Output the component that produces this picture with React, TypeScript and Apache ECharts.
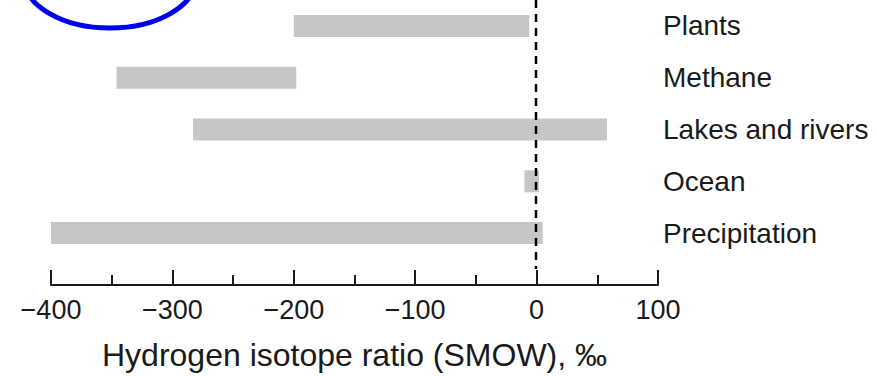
import React, { useEffect, useRef } from "react";
import * as echarts from "echarts";

// Hydrogen isotope ranges (δD vs SMOW, ‰) for each reservoir
const categories = ["Plants", "Methane", "Lakes and rivers", "Ocean", "Precipitation"];
const rangeStart = [-200, -346, -283, -10, -400];
const rangeEnd = [-6, -198, 58, 2, 5];

// SMOW reference value, drawn as a dashed vertical line
const referenceValue = [0];

const axisMin = -400;
const axisMax = 100;
const axisStep = 100;

const FONT = "'Liberation Sans', Arial, Helvetica, sans-serif";
const INK = "#1a1a1a";

export default function App() {
  const ref = useRef<HTMLDivElement>(null);

  useEffect(() => {
    if (!ref.current) return;
    const chart = echarts.init(ref.current, undefined, { renderer: "svg" });

    const rangeData = categories.map((_, i) => [rangeStart[i], rangeEnd[i], i]);

    const renderRange = (params: any, api: any) => {
      const y = api.value(2);
      const p0 = api.coord([api.value(0), y]);
      const p1 = api.coord([api.value(1), y]);
      const h = 22;
      return {
        type: "rect",
        shape: { x: p0[0], y: p0[1] - h / 2, width: p1[0] - p0[0], height: h },
        style: { fill: "#c6c6c6" },
      };
    };

    const renderReference = (params: any, api: any) => {
      const x = Math.round(api.coord([api.value(0), 0])[0]) - 1;
      const cs = params.coordSys;
      return {
        type: "line",
        shape: { x1: x, y1: 0, x2: x, y2: cs.y + cs.height + 10 },
        style: { stroke: "#000", lineWidth: 2.5, lineDash: [8, 6] },
        z2: 5,
      };
    };

    chart.setOption({
      animation: false,
      backgroundColor: "#ffffff",
      grid: { left: 51, right: 219, top: -5, bottom: 110, containLabel: false },
      xAxis: {
        type: "value",
        min: axisMin,
        max: axisMax,
        interval: axisStep,
        offset: 26,
        splitLine: { show: false },
        axisLine: { show: true, lineStyle: { color: INK, width: 2 } },
        axisTick: { show: true, inside: true, length: 15, lineStyle: { color: INK, width: 2 } },
        minorTick: { show: true, splitNumber: 2, length: 10, lineStyle: { color: INK, width: 2 } },
        axisLabel: {
          formatter: (v: number) => String(v).replace("-", "\u2212"),
          fontFamily: FONT,
          fontSize: 27,
          color: INK,
          margin: 11,
        },
        name: "Hydrogen isotope ratio (SMOW), ‰",
        nameLocation: "middle",
        nameGap: 54,
        nameTextStyle: { fontFamily: FONT, fontSize: 32, color: INK },
      },
      yAxis: {
        type: "category",
        data: categories,
        inverse: true,
        position: "right",
        axisLine: { show: false },
        axisTick: { show: false },
        splitLine: { show: false },
        axisLabel: { fontFamily: FONT, fontSize: 28, color: INK, margin: 5 },
      },
      series: [
        {
          type: "custom",
          name: "range",
          renderItem: renderRange,
          dimensions: ["start", "end", "reservoir"],
          encode: { x: ["start", "end"], y: "reservoir" },
          data: rangeData,
          clip: false,
        },
        {
          type: "custom",
          name: "reference",
          renderItem: renderReference,
          dimensions: ["value"],
          encode: { x: "value" },
          data: referenceValue.map((v) => [v]),
          clip: false,
        },
      ],
      graphic: [
        {
          type: "ellipse",
          shape: { cx: 110, cy: -22, rx: 86, ry: 50 },
          style: { fill: "none", stroke: "#0000ee", lineWidth: 5 },
          z: 10,
        },
      ],
    });

    return () => chart.dispose();
  }, []);

  return (
    <div
      ref={ref}
      style={{ position: "fixed", left: 0, top: 0, width: 877, height: 376, background: "#fff" }}
    />
  );
}
